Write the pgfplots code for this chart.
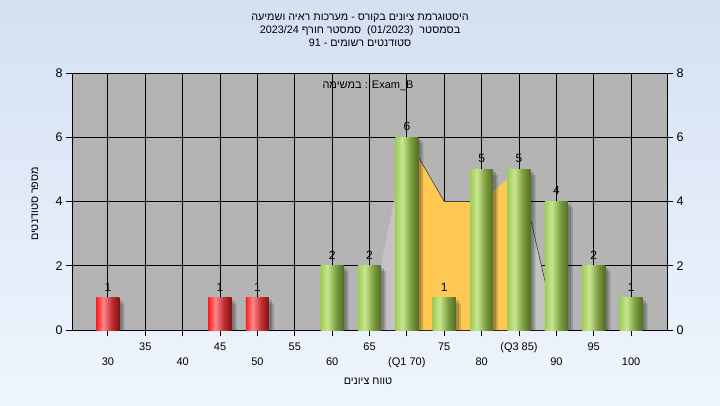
\documentclass[border=0pt]{standalone}
\usepackage{fontspec}
\setmainfont{Liberation Sans}
\newfontfamily\heb[Script=Hebrew]{Liberation Sans}
\usepackage{pgfplots}
\usepackage{pgfplotstable}
\pgfplotsset{compat=1.18}
\TeXXeTstate=1

\definecolor{bgtop}{RGB}{212,224,242}
\definecolor{bgbot}{RGB}{239,245,253}
\definecolor{plotbg}{RGB}{180,180,180}
\definecolor{polygray}{RGB}{195,195,195}
\definecolor{orangefill}{RGB}{255,201,84}
\definecolor{g1}{RGB}{160,204,88}
\definecolor{g2}{RGB}{200,230,142}
\definecolor{g3}{RGB}{125,158,66}
\definecolor{g4}{RGB}{82,108,36}
\definecolor{r1}{RGB}{252,32,32}
\definecolor{r2}{RGB}{255,135,135}
\definecolor{r3}{RGB}{195,48,48}
\definecolor{r4}{RGB}{128,18,18}

\pgfdeclarehorizontalshading{greenbar}{100bp}{color(0bp)=(g1); color(25bp)=(g1); color(40bp)=(g2); color(58bp)=(g3); color(75bp)=(g4); color(100bp)=(g4)}
\pgfdeclarehorizontalshading{redbar}{100bp}{color(0bp)=(r1); color(25bp)=(r1); color(40bp)=(r2); color(58bp)=(r3); color(75bp)=(r4); color(100bp)=(r4)}

\pgfplotstableread{
x y
30 1
45 1
50 1
}\redbars
\pgfplotstableread{
x y
60 2
65 2
70 6
75 1
80 5
85 5
90 4
95 2
100 1
}\greenbars

\pgfplotsset{
  barlabel/.style={nodes near coords, nodes near coords style={font=\fontsize{12}{13}\selectfont, text=black, yshift=3pt}},
}

\begin{document}
\begin{tikzpicture}
\shade[top color=bgtop, bottom color=bgbot] (0pt,0pt) rectangle (720pt,405pt);

\node[font=\fontsize{10.8}{12}\selectfont\heb] at (360pt,387pt) {\beginR היסטוגרמת ציונים בקורס - מערכות ראיה ושמיעה\endR};
\node[font=\fontsize{10.8}{12}\selectfont\heb] at (360pt,374pt) {\beginR בסמסטר \ \beginL(01/2023)\endL{}\ \ סמסטר חורף \beginL 2023/24\endL\endR};
\node[font=\fontsize{10.8}{12}\selectfont\heb] at (360pt,362pt) {\beginR סטודנטים רשומים - \beginL 91\endL\endR};

\node[font=\fontsize{10.8}{12}\selectfont\heb, rotate=90] at (35pt,201pt) {\beginR מספר סטודנטים\endR};
\node[font=\fontsize{10.8}{12}\selectfont\heb] at (368pt,24pt) {\beginR טווח ציונים\endR};

\begin{axis}[
  at={(72pt,75pt)}, anchor=south west, scale only axis,
  width=595pt, height=257pt,
  xmin=25.2, xmax=104.8, ymin=0, ymax=8,
  xtick={35,45,55,65,75,85,95},
  xticklabels={35,45,55,65,75,(Q3 85),95},
  extra x ticks={30,40,50,60,70,80,90,100},
  extra x tick labels={30,40,50,60,(Q1 70),80,90,100},
  extra x tick style={grid=major, tick label style={yshift=-15pt}},
  ytick={0,2,4,6,8},
  grid=major,
  grid style={black, line width=0.8pt},
  axis line style={black, line width=0.8pt},
  tick style={black, line width=0.8pt},
  tick align=outside, major tick length=6pt,
  xtick pos=left, ytick pos=both, yticklabel pos=left,
  x tick label style={font=\fontsize{11}{12}\selectfont, yshift=-3pt},
  y tick label style={font=\fontsize{12.5}{13}\selectfont},
  /pgf/number format/assume math mode=true,
  axis background/.style={fill=plotbg},
]
\addplot[fill=polygray, draw=none] coordinates {(64.8,0) (70,6) (75,4) (80,4) (85,5) (90,0)} \closedcycle;
\addplot[fill=orangefill, draw=none] coordinates {(70,0) (70,6) (75,4) (80,4) (85,5) (85,0)} \closedcycle;
\addplot[draw=black!75, line width=0.6pt] coordinates {(70,6) (75,4) (80,4)};
\addplot[draw=black!75, line width=0.6pt] coordinates {(85,5) (90,0)};

% shadows
\addplot[ybar, bar width=3.1, bar shift=5pt, fill=black, fill opacity=0.16, draw=none, y filter/.expression={y-0.17}] table {\redbars};
\addplot[ybar, bar width=3.1, bar shift=3pt, fill=black, fill opacity=0.2, draw=none, y filter/.expression={y-0.08}] table {\redbars};
\addplot[ybar, bar width=3.1, bar shift=5pt, fill=black, fill opacity=0.16, draw=none, y filter/.expression={y-0.17}] table {\greenbars};
\addplot[ybar, bar width=3.1, bar shift=3pt, fill=black, fill opacity=0.2, draw=none, y filter/.expression={y-0.08}] table {\greenbars};

% bars, one path each so that each gets its own shading
\pgfplotsinvokeforeach{29.5:30.5,44.5:45.5,49.5:50.5}{
  \addplot[ybar, bar width=3.1, bar shift=0pt, draw=none, shade, shading=redbar, barlabel,
    restrict x to domain=#1] table {\redbars};
}
\pgfplotsinvokeforeach{59.5:60.5,64.5:65.5,69.5:70.5,74.5:75.5,79.5:80.5,84.5:85.5,89.5:90.5,94.5:95.5,99.5:100.5}{
  \addplot[ybar, bar width=3.1, bar shift=0pt, draw=none, shade, shading=greenbar, barlabel,
    restrict x to domain=#1] table {\greenbars};
}
\end{axis}

\begin{axis}[
  at={(72pt,75pt)}, anchor=south west, scale only axis,
  width=595pt, height=257pt,
  xmin=25.2, xmax=104.8, ymin=0, ymax=8,
  axis x line=none, axis y line*=right,
  ytick={0,2,4,6,8},
  axis line style={black, line width=0.8pt},
  tick style={black, line width=0.8pt},
  tick align=outside, major tick length=6pt,
  y tick label style={font=\fontsize{12.5}{13}\selectfont},
  /pgf/number format/assume math mode=true,
]
\addplot[draw=none] coordinates {(30,0)};
\end{axis}

\node[font=\fontsize{11}{12}\selectfont] at (368pt,319pt) {{\heb במשימה} : Exam\_B};

\pgfresetboundingbox
\useasboundingbox (0pt,0pt) rectangle (720pt,405pt);
\end{tikzpicture}
\end{document}
